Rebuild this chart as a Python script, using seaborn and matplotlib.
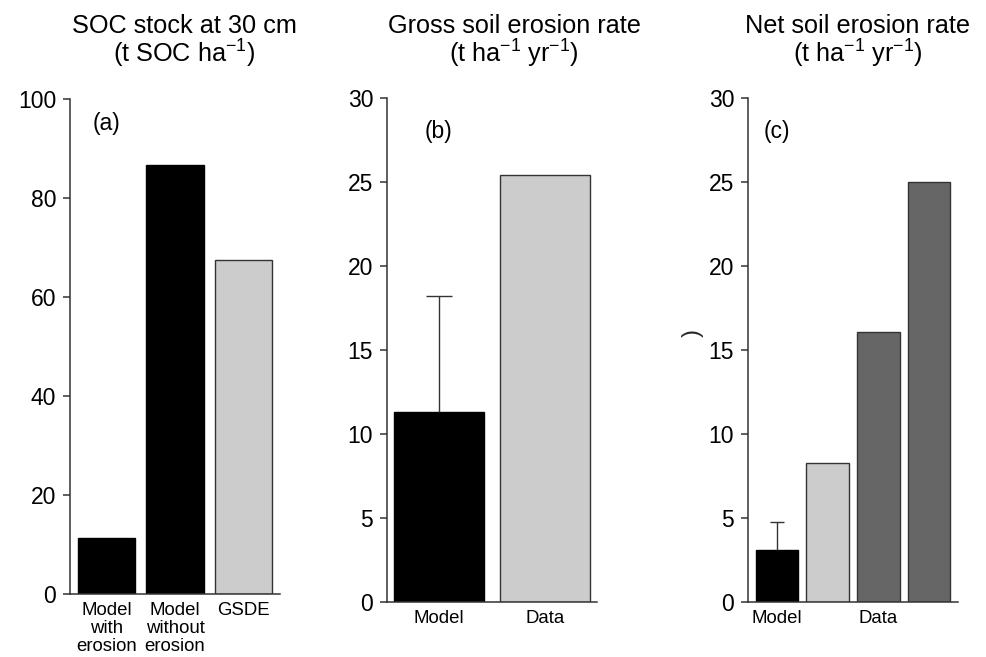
import matplotlib
matplotlib.use("Agg")
import matplotlib.pyplot as plt
import seaborn as sns
import pandas as pd

# ---- data ----
soc_labels = ["Model\nwith\nerosion", "Model\nwithout\nerosion", "GSDE"]
soc_values = [11.4, 86.7, 67.5]

gross_labels = ["Model", "Data"]
gross_values = [11.3, 25.4]
gross_err_top = 18.2

net_labels = ["Model", "", "Data", ""]
net_values = [3.1, 8.3, 16.05, 25.0]
net_err_top = 4.75

titles_line1 = ["SOC stock at 30 cm", "Gross soil erosion rate", "Net soil erosion rate"]
titles_line2 = [r"(t SOC ha$^{-1}$)", r"(t ha$^{-1}$ yr$^{-1}$)", r"(t ha$^{-1}$ yr$^{-1}$)"]
panel_tags = ["(a)", "(b)", "(c)"]

# ---- style ----
sns.set_theme(style="white")
plt.rcParams['font.family'] = ['Liberation Sans', 'DejaVu Sans']
plt.rcParams['mathtext.fontset'] = 'custom'
plt.rcParams['mathtext.rm'] = 'Liberation Sans'
plt.rcParams['mathtext.it'] = 'Liberation Sans'
plt.rcParams['mathtext.bf'] = 'Liberation Sans'

W, H = 987, 657
fig = plt.figure(figsize=(W / 100, H / 100), dpi=100)
fig.patch.set_facecolor("white")

AX_COL = "#333333"


def px_axes(left, right, top, bottom):
    return fig.add_axes([left / W, 1 - bottom / H, (right - left) / W, (bottom - top) / H])


def panel(ax, labels, values, colors, edges, ylim, yticks, xlim, tag, tag_y):
    df = pd.DataFrame({"cat": [f"c{i}" for i in range(len(values))], "val": values})
    sns.barplot(data=df, x="cat", y="val", hue="cat", palette=colors, legend=False,
                width=0.84, saturation=1, ax=ax, zorder=2)
    for p, ec in zip(ax.patches, edges):
        p.set_edgecolor(ec)
        p.set_linewidth(1.0)
    ax.set_xlim(*xlim)
    ax.set_ylim(*ylim)
    ax.set_yticks(yticks)
    ax.set_yticklabels([str(t) for t in yticks])
    ax.set_xticks(range(len(values)))
    ax.set_xticklabels(labels, linespacing=1.05)
    ax.set_xlabel("")
    ax.set_ylabel("")
    sns.despine(ax=ax)
    for s in ("left", "bottom"):
        ax.spines[s].set_color(AX_COL)
        ax.spines[s].set_linewidth(1.1)
    ax.tick_params(axis="y", left=True, length=5, width=1.1, color=AX_COL,
                   labelsize=16.5, pad=5, direction="out", labelcolor="black")
    ax.tick_params(axis="x", bottom=False, length=0, labelsize=13.4, pad=6, labelcolor="black")
    ax.set_facecolor("white")
    ax.text(0, tag_y, tag, ha="center", va="center", fontsize=16.5, color="black")


def upper_err(ax, x, base, top, half_cap):
    ax.vlines(x, base, top, colors=AX_COL, linewidth=1.0, zorder=3)
    ax.hlines(top, x - half_cap, x + half_cap, colors=AX_COL, linewidth=1.0, zorder=3)


# Panel (a)
axa = px_axes(70, 280, 99, 594)
panel(axa, soc_labels, soc_values, ["#000000", "#000000", "#cccccc"],
      ["#000000", "#000000", AX_COL], (0, 100), [0, 20, 40, 60, 80, 100],
      (-0.537, 2.537), panel_tags[0], 95)

# Panel (b)
axb = px_axes(387, 597, 98, 602)
panel(axb, gross_labels, gross_values, ["#000000", "#cccccc"],
      ["#000000", AX_COL], (0, 30), [0, 5, 10, 15, 20, 25, 30],
      (-0.49, 1.49), panel_tags[1], 28)
upper_err(axb, 0, gross_values[0], gross_err_top, 0.127)

# Panel (c)
axc = px_axes(748, 958, 98, 602)
panel(axc, net_labels, net_values, ["#000000", "#cccccc", "#666666", "#666666"],
      ["#000000", AX_COL, AX_COL, AX_COL], (0, 30), [0, 5, 10, 15, 20, 25, 30],
      (-0.571, 3.571), panel_tags[2], 28)
upper_err(axc, 0, net_values[0], net_err_top, 0.138)

# stray rotated parenthesis left of panel (c)
fig.text(693 / W, 1 - 333 / H, ")", rotation=90, fontsize=17, ha="center", va="center")

# Titles
centers = [184, 514, 858]
for cx, t1, t2 in zip(centers, titles_line1, titles_line2):
    fig.text(cx / W, 1 - 33 / H, t1, ha="center", va="baseline", fontsize=18.2, color="black")
    fig.text(cx / W, 1 - 63 / H, t2, ha="center", va="baseline", fontsize=18.2, color="black")

fig.savefig("out.png", dpi=100, facecolor="white")
